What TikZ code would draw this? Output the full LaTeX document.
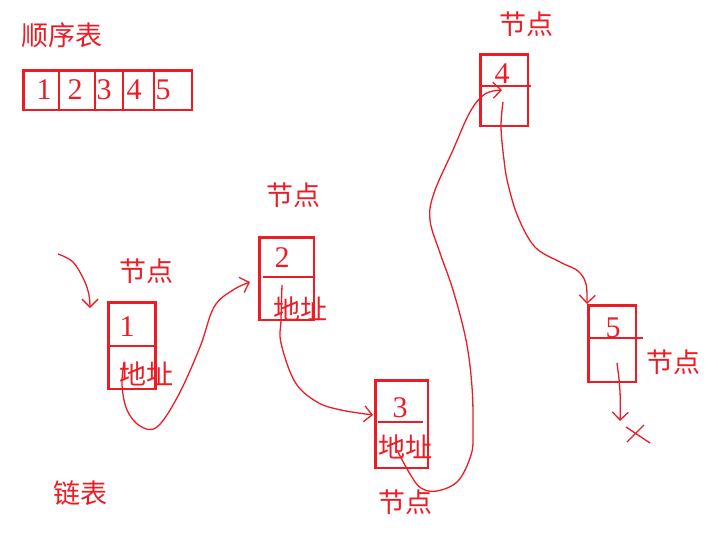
\documentclass[tikz,border=0pt]{standalone}
\usepackage{fontspec}
\setmainfont{Liberation Serif}
\newfontfamily\cjk{Noto Sans CJK SC}
\usetikzlibrary{arrows.meta,calc}
\definecolor{rouge}{RGB}{237,28,36}

\begin{document}
\begin{tikzpicture}[x=1pt,y=-1pt]
% les styles
\tikzstyle{case}=[rectangle, draw=rouge, line width=2.5pt, inner sep=0pt]
\tikzstyle{cloison}=[draw=rouge, line width=1.5pt]
\tikzstyle{texte}=[text=rouge, font=\cjk\fontsize{27}{30}\selectfont, inner sep=0pt]
\tikzstyle{chiffre}=[text=rouge, font=\fontsize{30}{32}\selectfont, inner sep=0pt]
\tikzstyle{lien}=[draw=rouge, line width=1.3pt, -{Straight Barb[length=8pt,width=16pt]}]
\tikzstyle{trait}=[draw=rouge, line width=1.3pt]

\useasboundingbox (0,0) rectangle (718,552);

% le tableau
\node[texte] (titreT) at (62,35) {顺序表};
\node[case, minimum width=168.5pt, minimum height=39.5pt] (tab) at (107.5,90) {};
\foreach \x in {59,95,123,154}
  \draw[cloison] (tab.north -| \x,0) -- (tab.south -| \x,0);
\foreach \x/\v in {44/1,75/2,104/3,134/4,163/5}
  \node[chiffre] (t\v) at (\x,90) {\v};

% les maillons
\node[case, minimum width=47pt, minimum height=86.5pt] (n1) at (132,345.5) {};
\node[case, minimum width=54.5pt, minimum height=82.5pt] (n2) at (286.5,278.5) {};
\node[case, minimum width=52.5pt, minimum height=87.5pt] (n3) at (401.5,424) {};
\node[case, minimum width=47.5pt, minimum height=71.5pt] (n4) at (504,90) {};
\node[case, minimum width=47.5pt, minimum height=76.5pt] (n5) at (612,343.5) {};
\foreach \n/\g/\d/\h in {n1/-25/25/0.5, n2/-23.5/28.5/-1.5, n3/-23.5/21.5/-2, n4/-25/27/-4, n5/-25/31/-5.5}
  \draw[cloison] ($(\n.center)+(\g,\h)$) -- ($(\n.center)+(\d,\h)$);

\node[chiffre] (v1) at (127,327) {1};
\node[chiffre] (v2) at (282,258) {2};
\node[chiffre] (v3) at (400,408) {3};
\node[chiffre] (v4) at (502,74) {4};
\node[chiffre] (v5) at (613,328) {5};

\node[texte] (p1) at (146,374) {地址};
\node[texte] (p2) at (300,309) {地址};
\node[texte] (p3) at (405,447) {地址};

\node[texte] (e1) at (146,271) {节点};
\node[texte] (e2) at (293,195) {节点};
\node[texte] (e3) at (405,502) {节点};
\node[texte] (e4) at (526,24) {节点};
\node[texte] (e5) at (673,362) {节点};

\node[texte] (titreL) at (80,493) {链表};

% les liens
\coordinate (dep) at (58,254);
\coordinate (a1) at ($(n1.center)+(-42,-37.5)$);
\coordinate (d1) at ($(n1.center)+(-8,17)$);
\coordinate (a2) at ($(n2.center)+(-36.5,3.5)$);
\coordinate (d2) at ($(n2.center)+(-4.5,6.5)$);
\coordinate (a3) at ($(n3.center)+(-28.5,-9)$);
\coordinate (d3) at ($(n3.center)+(-4.5,26)$);
\coordinate (a4) at ($(n4.center)+(-2,0)$);
\coordinate (d4) at ($(n4.center)+(-1,12)$);
\coordinate (a5) at ($(n5.center)+(-25,-39.5)$);
\coordinate (d5) at ($(n5.center)+(5,19.5)$);
\coordinate (nul) at (620,421);

\draw[lien] plot[smooth, tension=0.6] coordinates {(dep) (73,262) (84,280) (89,295) (a1)};
\draw[lien] plot[smooth, tension=0.6] coordinates {(d1) (122,385) (127,410) (140,426) (157,427) (178,396) (200,347) (214,307) (233,290) (a2)};
\draw[lien] plot[smooth, tension=0.6] coordinates {(d2) (281,320) (281,343) (295,382) (317,402) (341,410) (a3)};
\draw[lien] plot[smooth, tension=0.6] coordinates {(d3) (410,474) (421,488) (437,491) (458,481) (471,455) (473,433) (472,387) (466,340) (453,290) (440,253) (430,220) (434,193) (453,150) (470,112) (485,94) (a4)};
\draw[lien] plot[smooth, tension=0.6] coordinates {(d4) (501,127) (504,160) (508,184) (518,217) (535,247) (560,262) (578,271) (586,284) (a5)};
\draw[lien] (d5) to[bend left=5] (nul);

% la fin de liste
\draw[trait] ($(nul)+(6,6)$) -- ($(nul)+(30,22)$);
\draw[trait] ($(nul)+(7,21)$) -- ($(nul)+(24,4)$);
\end{tikzpicture}
\end{document}
